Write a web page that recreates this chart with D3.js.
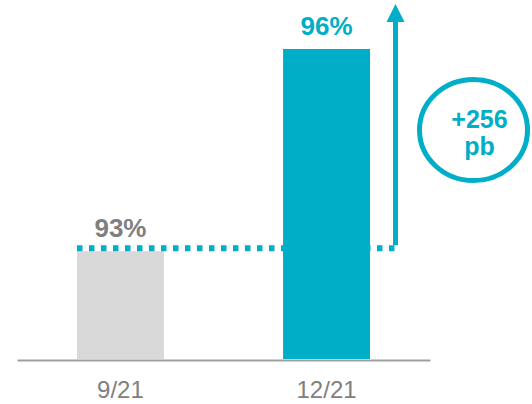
<!DOCTYPE html>
<html>
<head>
<meta charset="utf-8">
<script src="https://cdn.jsdelivr.net/npm/d3@7"></script>
<style>
  html, body { margin: 0; padding: 0; background: #fff; }
  svg { display: block; font-family: "Liberation Sans", Arial, sans-serif; }
</style>
</head>
<body>
<svg id="chart" width="532" height="404"></svg>
<script>
// Occupancy at two quarter-ends and the change between them
const categories = ["9/21", "12/21"];
const values = [93, 96];
const valueLabels = ["93%", "96%"];
const barColors = ["#d9d9d9", "#00aec7"];
const labelColors = ["#7f7f7f", "#00aec7"];
const changeLabel = ["+256", "pb"];

const teal = "#00aec7";
const svg = d3.select("#chart");

const x = d3.scaleBand()
  .domain(categories)
  .range([17, 430])
  .paddingInner(0.578)
  .paddingOuter(0.291);

const y = d3.scaleLinear()
  .domain([91.4, 96])
  .range([359, 49]);

// bars
svg.append("g")
  .selectAll("rect")
  .data(categories)
  .join("rect")
  .attr("x", d => x(d))
  .attr("y", (d, i) => y(values[i]))
  .attr("width", x.bandwidth())
  .attr("height", (d, i) => y.range()[0] - y(values[i]))
  .attr("fill", (d, i) => barColors[i]);

// value labels above bars
svg.append("g")
  .selectAll("text")
  .data(categories)
  .join("text")
  .attr("x", d => x(d) + x.bandwidth() / 2)
  .attr("y", (d, i) => y(values[i]) - 14)
  .attr("text-anchor", "middle")
  .attr("font-size", 26)
  .attr("font-weight", "bold")
  .attr("fill", (d, i) => labelColors[i])
  .text((d, i) => valueLabels[i]);

// category axis
const axis = svg.append("g")
  .attr("transform", "translate(0,360)")
  .call(d3.axisBottom(x).tickSize(0).tickSizeOuter(0).tickPadding(21));
axis.select(".domain").attr("stroke", "#a0a0a0").attr("stroke-width", 2);
axis.selectAll("text")
  .attr("font-size", 24)
  .attr("font-family", "Liberation Sans, Arial, sans-serif")
  .attr("fill", "#7f7f7f");

// dotted reference line at the earlier level, leading into the arrow
const refY = y(values[0]) - 3;
const arrowX = 395.5;
svg.append("line")
  .attr("x1", x(categories[0]))
  .attr("x2", arrowX + 1)
  .attr("y1", refY)
  .attr("y2", refY)
  .attr("stroke", teal)
  .attr("stroke-width", 6)
  .attr("stroke-dasharray", "5.5 6.5");

// upward arrow
const headBase = 22, headTop = 4;
svg.append("line")
  .attr("x1", arrowX).attr("x2", arrowX)
  .attr("y1", refY - 3).attr("y2", headBase)
  .attr("stroke", teal)
  .attr("stroke-width", 5);
svg.append("path")
  .attr("d", `M${arrowX - 9},${headBase} L${arrowX + 9},${headBase} L${arrowX},${headTop} Z`)
  .attr("fill", teal);

// change callout
const cx = 473.5, cy = 130;
svg.append("ellipse")
  .attr("cx", cx).attr("cy", cy)
  .attr("rx", 54).attr("ry", 50.5)
  .attr("fill", "none")
  .attr("stroke", teal)
  .attr("stroke-width", 5);
svg.append("g")
  .selectAll("text")
  .data(changeLabel)
  .join("text")
  .attr("x", cx + 6)
  .attr("y", (d, i) => 128 + i * 27)
  .attr("text-anchor", "middle")
  .attr("font-size", 25)
  .attr("font-weight", "bold")
  .attr("fill", teal)
  .text(d => d);
</script>
</body>
</html>
